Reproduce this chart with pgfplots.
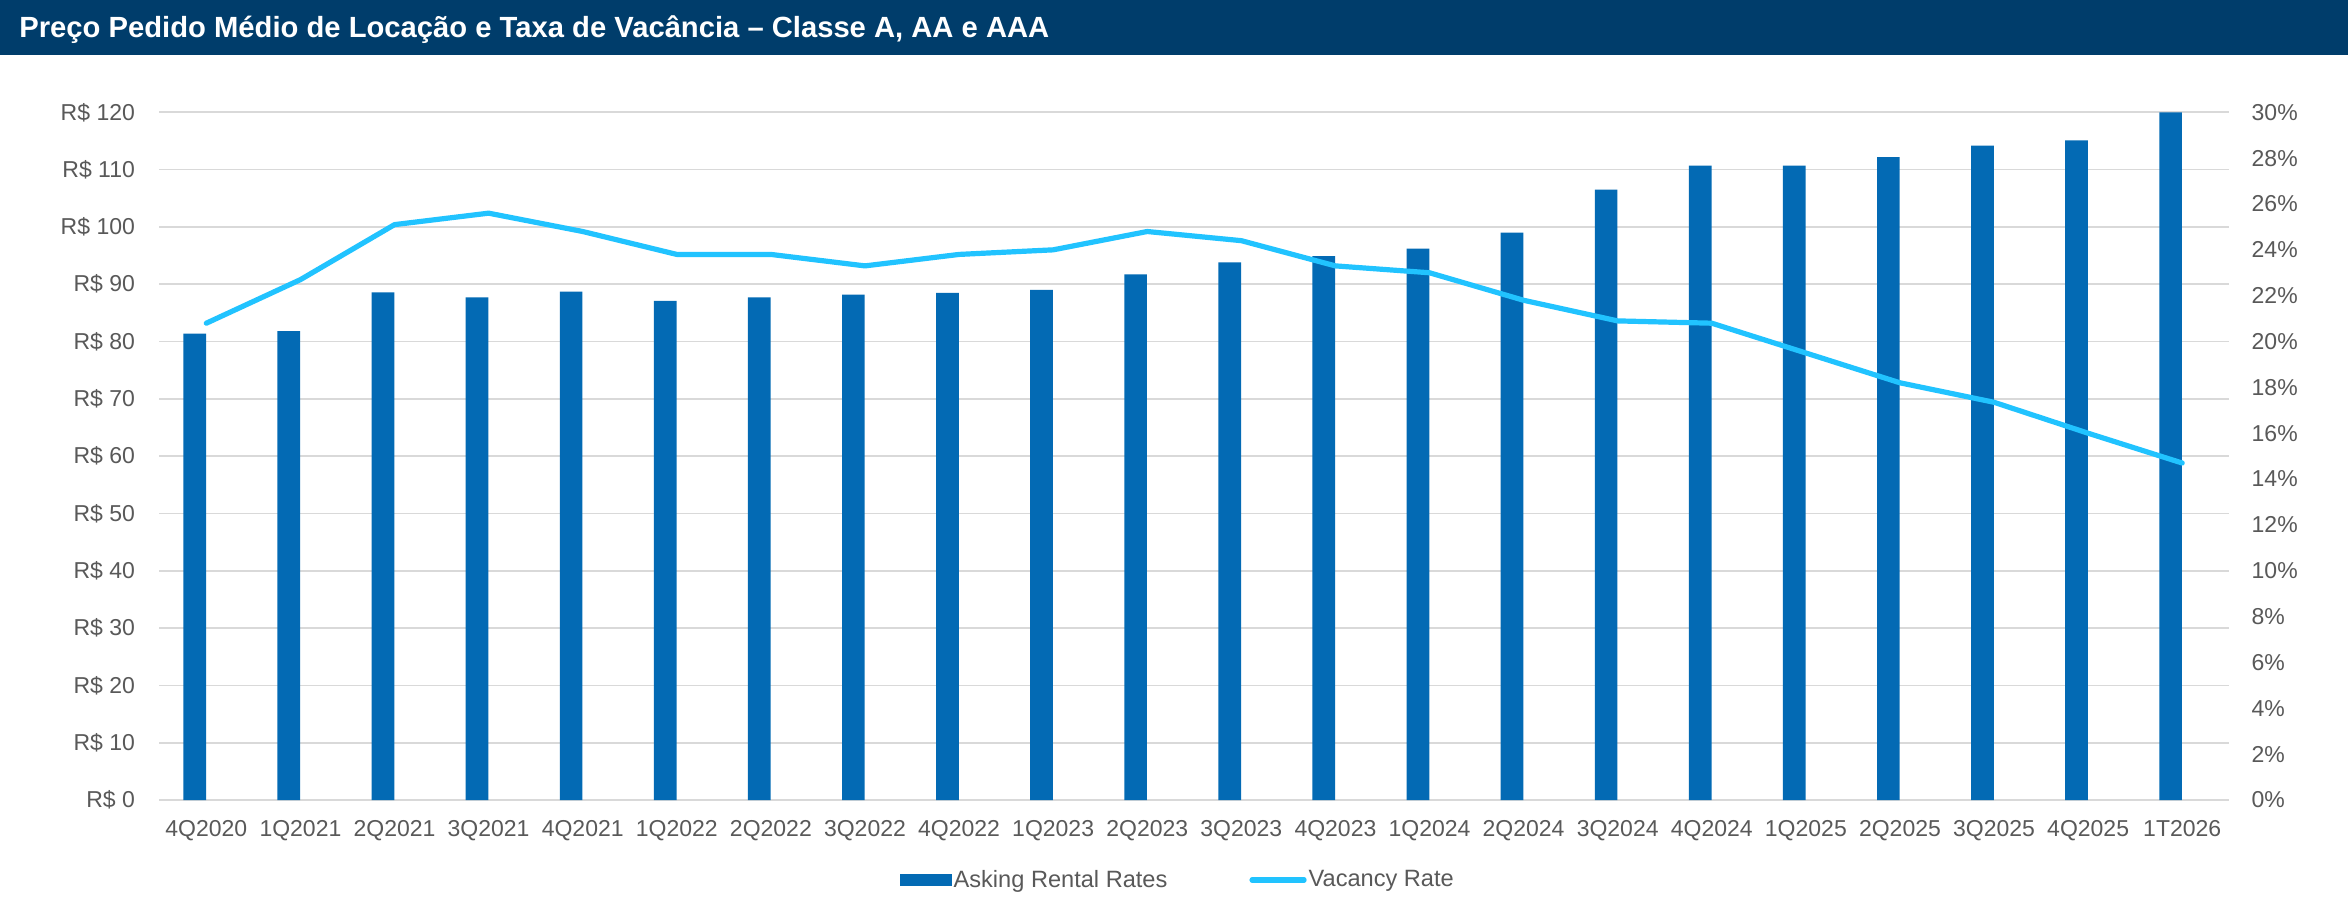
\documentclass[border=0pt]{standalone}
\usepackage{fontspec}
\setmainfont{Liberation Sans}
\usepackage{pgfplots}
\pgfplotsset{compat=1.18}

\definecolor{banner}{HTML}{003D6B}
\definecolor{barblue}{HTML}{036AB4}
\definecolor{linecyan}{HTML}{21C3FF}
\definecolor{textgray}{HTML}{595959}
\definecolor{gridgray}{HTML}{D9D9D9}

% 1 px of the reference = 0.5pt
\pgfplotsset{
  common/.style={
    at={(79.65pt,-400pt)}, anchor=south west,
    width=1035pt, height=343.85pt, scale only axis,
    xmin=-0.5, xmax=21.5,
    axis line style={draw=none},
    major tick length=0pt,
    /pgf/number format/assume math mode=true,
    ticklabel style={font=\fontsize{11.5}{13}\selectfont, text=textgray, inner sep=0pt},
  },
}

\begin{document}
\begin{tikzpicture}
\fill[white] (0,0) rectangle (1174pt,-460pt);
\fill[banner] (0,0) rectangle (1174pt,-27.5pt);
\node[anchor=base west, inner sep=0pt, text=white, font=\bfseries\fontsize{14.6}{16}\selectfont]
  at (9.5pt,-19pt) {Preço Pedido Médio de Locação e Taxa de Vacância – Classe A, AA e AAA};

\begin{axis}[common,
  ymin=0, ymax=120, ytick={0,10,...,120},
  yticklabel={R\$ \pgfmathprintnumber{\tick}},
  yticklabel style={xshift=-12pt},
  ymajorgrids, grid style={color=gridgray, line width=0.85pt},
  xtick={0,...,21},
  xticklabels={4Q2020,1Q2021,2Q2021,3Q2021,4Q2021,1Q2022,2Q2022,3Q2022,4Q2022,1Q2023,2Q2023,3Q2023,4Q2023,1Q2024,2Q2024,3Q2024,4Q2024,1Q2025,2Q2025,3Q2025,4Q2025,1T2026},
  xticklabel style={yshift=-10pt},
  legend columns=2,
  legend style={at={(0.492,-0.1163)}, anchor=center, draw=none, fill=none,
    inner sep=0pt, font=\fontsize{11.8}{13}\selectfont, text=textgray,
    nodes={inner sep=1pt},
    /tikz/every even column/.append style={column sep=40pt}},
]
\addplot[ybar, bar width=11.35pt, bar shift=-5.8pt, fill=barblue, draw=none,
  legend image code/.code={\fill[barblue] (0pt,-3.2pt) rectangle (26pt,3.2pt);}]
  coordinates {
  (0,81.4) (1,81.8) (2,88.6) (3,87.7) (4,88.7) (5,87.1) (6,87.7) (7,88.2)
  (8,88.5) (9,89.0) (10,91.7) (11,93.8) (12,94.9) (13,96.2) (14,99.0)
  (15,106.5) (16,110.7) (17,110.7) (18,112.2) (19,114.2) (20,115.1) (21,120.0)
  };
\addlegendentry{Asking Rental Rates}
\addlegendimage{legend image code/.code={\draw[linecyan, line width=2.6pt, line cap=round] (1pt,0pt) -- (27pt,0pt);}}
\addlegendentry{Vacancy Rate}
\end{axis}

\begin{axis}[common,
  axis x line=none, axis y line*=right,
  ymin=0, ymax=30, ytick={0,2,...,30},
  yticklabel={\pgfmathprintnumber{\tick}\%},
  yticklabel style={xshift=11pt},
]
\addplot[linecyan, line width=2.6pt, line cap=round, line join=round]
  coordinates {
  (0,20.8) (1,22.7) (2,25.1) (3,25.6) (4,24.8) (5,23.8) (6,23.8) (7,23.3)
  (8,23.8) (9,24.0) (10,24.8) (11,24.4) (12,23.3) (13,23.0) (14,21.8)
  (15,20.9) (16,20.8) (17,19.5) (18,18.2) (19,17.35) (20,16.0) (21,14.7)
  };
\end{axis}
\end{tikzpicture}
\end{document}
